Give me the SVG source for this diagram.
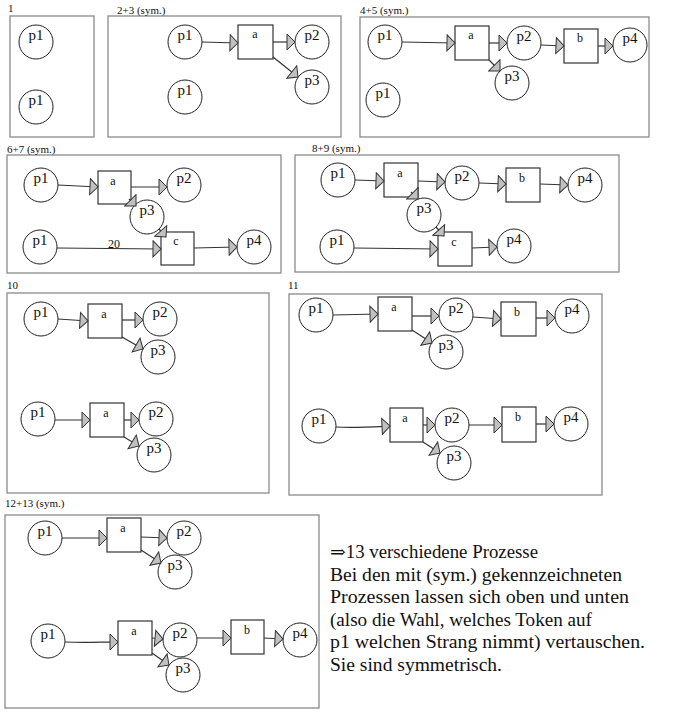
<svg xmlns="http://www.w3.org/2000/svg" width="686" height="719" viewBox="0 0 686 719">
<style>
.frame{fill:none;stroke:#8a8a8a;stroke-width:1.3}
.pl{fill:#fff;stroke:#222;stroke-width:1}
.tr{fill:#fff;stroke:#333;stroke-width:1.2}
.arc{fill:none;stroke:#333;stroke-width:1.2;marker-end:url(#ah)}
.plt{font-family:"Liberation Serif","Times New Roman",serif;font-size:15px;fill:#111;text-anchor:middle}
.trt{font-family:"Liberation Serif","Times New Roman",serif;font-size:12px;fill:#111;text-anchor:middle}
.lbl{font-family:"Liberation Serif","Times New Roman",serif;font-size:11px;fill:#111}
.note{font-family:"Liberation Serif","DejaVu Serif",serif;font-size:18px;fill:#111}
</style>
<defs>
<marker id="ah" viewBox="0 0 10 18" refX="9" refY="9" markerWidth="10" markerHeight="18" markerUnits="userSpaceOnUse" orient="auto">
<path d="M1,1 L9,9 L1,17 Z" fill="#c0c0c0" stroke="#333" stroke-width="1"/>
</marker>
</defs>
<rect width="686" height="719" fill="#fff"/>

<!-- frames and panel labels -->
<g id="frames">
<rect class="frame" x="10" y="16" width="84" height="121"/>
<rect class="frame" x="108" y="16" width="233" height="121"/>
<rect class="frame" x="360" y="17" width="289" height="120"/>
<rect class="frame" x="7" y="155" width="274" height="118"/>
<rect class="frame" x="295" y="155" width="324" height="117"/>
<rect class="frame" x="7" y="293" width="262" height="200"/>
<rect class="frame" x="289" y="294" width="313" height="201"/>
<rect class="frame" x="5" y="515" width="314" height="193"/>
<text class="lbl" x="8" y="12">1</text>
<text class="lbl" x="117" y="14">2+3 (sym.)</text>
<text class="lbl" x="360" y="14">4+5 (sym.)</text>
<text class="lbl" x="7" y="153">6+7 (sym.)</text>
<text class="lbl" x="312" y="152">8+9 (sym.)</text>
<text class="lbl" x="7" y="289">10</text>
<text class="lbl" x="288" y="289">11</text>
<text class="lbl" x="5" y="507">12+13 (sym.)</text>
</g>

<!-- Panel 1 -->
<g id="n1-p1a"><circle class="pl" cx="36" cy="42" r="17"/><text class="plt" x="36" y="40">p1</text></g>
<g id="n1-p1b"><circle class="pl" cx="36" cy="107" r="17"/><text class="plt" x="36" y="105">p1</text></g>

<!-- Panel 2+3 -->
<g id="n2-p1a"><circle class="pl" cx="185" cy="42" r="17"/><text class="plt" x="185" y="40">p1</text></g>
<g id="n2-a"><rect class="tr" x="238" y="25" width="35" height="34"/><text class="trt" x="255" y="38">a</text></g>
<g id="n2-p2"><circle class="pl" cx="312" cy="42" r="17"/><text class="plt" x="312" y="40">p2</text></g>
<g id="n2-p3"><circle class="pl" cx="312" cy="87" r="17"/><text class="plt" x="312" y="85">p3</text></g>
<g id="n2-p1b"><circle class="pl" cx="185" cy="97" r="17"/><text class="plt" x="185" y="95">p1</text></g>

<!-- Panel 4+5 -->
<g id="n4-p1a"><circle class="pl" cx="385" cy="42" r="17"/><text class="plt" x="385" y="40">p1</text></g>
<g id="n4-a"><rect class="tr" x="455" y="26" width="34" height="34"/><text class="trt" x="471" y="39">a</text></g>
<g id="n4-p2"><circle class="pl" cx="524" cy="43" r="17"/><text class="plt" x="524" y="41">p2</text></g>
<g id="n4-b"><rect class="tr" x="564" y="29" width="34" height="34"/><text class="trt" x="580" y="42">b</text></g>
<g id="n4-p4"><circle class="pl" cx="630" cy="45" r="17"/><text class="plt" x="630" y="43">p4</text></g>
<g id="n4-p3"><circle class="pl" cx="512" cy="83" r="17"/><text class="plt" x="512" y="81">p3</text></g>
<g id="n4-p1b"><circle class="pl" cx="383" cy="100" r="17"/><text class="plt" x="383" y="98">p1</text></g>

<!-- Panel 6+7 -->
<g id="n6-p1a"><circle class="pl" cx="41" cy="185" r="17"/><text class="plt" x="41" y="183">p1</text></g>
<g id="n6-a"><rect class="tr" x="98" y="171" width="33" height="33"/><text class="trt" x="113" y="185">a</text></g>
<g id="n6-p2"><circle class="pl" cx="184" cy="185" r="17"/><text class="plt" x="184" y="183">p2</text></g>
<g id="n6-p3"><circle class="pl" cx="147" cy="217" r="17"/><text class="plt" x="147" y="215">p3</text></g>
<g id="n6-p1b"><circle class="pl" cx="40" cy="247" r="17"/><text class="plt" x="40" y="245">p1</text></g>
<g id="n6-c"><rect class="tr" x="161" y="232" width="33" height="33"/><text class="trt" x="176" y="245">c</text></g>
<g id="n6-p4"><circle class="pl" cx="254" cy="247" r="17"/><text class="plt" x="254" y="245">p4</text></g>

<!-- Panel 8+9 -->
<g id="n8-p1a"><circle class="pl" cx="338" cy="180" r="17"/><text class="plt" x="338" y="178">p1</text></g>
<g id="n8-a"><rect class="tr" x="384" y="163" width="34" height="34"/><text class="trt" x="400" y="177">a</text></g>
<g id="n8-p2"><circle class="pl" cx="462" cy="183" r="17"/><text class="plt" x="462" y="181">p2</text></g>
<g id="n8-b"><rect class="tr" x="506" y="168" width="34" height="34"/><text class="trt" x="522" y="182">b</text></g>
<g id="n8-p4a"><circle class="pl" cx="585" cy="185" r="17"/><text class="plt" x="585" y="183">p4</text></g>
<g id="n8-p3"><circle class="pl" cx="424" cy="215" r="17"/><text class="plt" x="424" y="213">p3</text></g>
<g id="n8-p1b"><circle class="pl" cx="337" cy="247" r="17"/><text class="plt" x="337" y="245">p1</text></g>
<g id="n8-c"><rect class="tr" x="438" y="232" width="34" height="34"/><text class="trt" x="454" y="246">c</text></g>
<g id="n8-p4b"><circle class="pl" cx="514" cy="246" r="17"/><text class="plt" x="514" y="244">p4</text></g>

<!-- Panel 10 -->
<g id="n10-p1a"><circle class="pl" cx="41" cy="319" r="17"/><text class="plt" x="41" y="317">p1</text></g>
<g id="n10-a1"><rect class="tr" x="88" y="304" width="34" height="34"/><text class="trt" x="104" y="318">a</text></g>
<g id="n10-p2a"><circle class="pl" cx="160" cy="319" r="17"/><text class="plt" x="160" y="317">p2</text></g>
<g id="n10-p3a"><circle class="pl" cx="158" cy="357" r="17"/><text class="plt" x="158" y="355">p3</text></g>
<g id="n10-p1b"><circle class="pl" cx="38" cy="419" r="17"/><text class="plt" x="38" y="417">p1</text></g>
<g id="n10-a2"><rect class="tr" x="90" y="403" width="34" height="34"/><text class="trt" x="106" y="417">a</text></g>
<g id="n10-p2b"><circle class="pl" cx="156" cy="419" r="17"/><text class="plt" x="156" y="417">p2</text></g>
<g id="n10-p3b"><circle class="pl" cx="154" cy="455" r="17"/><text class="plt" x="154" y="453">p3</text></g>

<!-- Panel 11 -->
<g id="n11-p1a"><circle class="pl" cx="316" cy="315" r="17"/><text class="plt" x="316" y="313">p1</text></g>
<g id="n11-a1"><rect class="tr" x="378" y="297" width="34" height="34"/><text class="trt" x="394" y="311">a</text></g>
<g id="n11-p2a"><circle class="pl" cx="456" cy="315" r="17"/><text class="plt" x="456" y="313">p2</text></g>
<g id="n11-b1"><rect class="tr" x="501" y="302" width="35" height="34"/><text class="trt" x="517" y="316">b</text></g>
<g id="n11-p4a"><circle class="pl" cx="572" cy="316" r="17"/><text class="plt" x="572" y="314">p4</text></g>
<g id="n11-p3a"><circle class="pl" cx="446" cy="352" r="17"/><text class="plt" x="446" y="350">p3</text></g>
<g id="n11-p1b"><circle class="pl" cx="319" cy="426" r="17"/><text class="plt" x="319" y="424">p1</text></g>
<g id="n11-a2"><rect class="tr" x="390" y="408" width="33" height="34"/><text class="trt" x="405" y="422">a</text></g>
<g id="n11-p2b"><circle class="pl" cx="452" cy="425" r="17"/><text class="plt" x="452" y="423">p2</text></g>
<g id="n11-b2"><rect class="tr" x="502" y="407" width="34" height="35"/><text class="trt" x="518" y="421">b</text></g>
<g id="n11-p4b"><circle class="pl" cx="571" cy="424" r="17"/><text class="plt" x="571" y="422">p4</text></g>
<g id="n11-p3b"><circle class="pl" cx="454" cy="463" r="17"/><text class="plt" x="454" y="461">p3</text></g>

<!-- Panel 12+13 -->
<g id="n12-p1a"><circle class="pl" cx="45" cy="538" r="17"/><text class="plt" x="45" y="536">p1</text></g>
<g id="n12-a1"><rect class="tr" x="107" y="518" width="34" height="34"/><text class="trt" x="123" y="532">a</text></g>
<g id="n12-p2a"><circle class="pl" cx="184" cy="538" r="17"/><text class="plt" x="184" y="536">p2</text></g>
<g id="n12-p3a"><circle class="pl" cx="175" cy="572" r="17"/><text class="plt" x="175" y="570">p3</text></g>
<g id="n12-p1b"><circle class="pl" cx="48" cy="641" r="17"/><text class="plt" x="48" y="639">p1</text></g>
<g id="n12-a2"><rect class="tr" x="118" y="621" width="34" height="34"/><text class="trt" x="134" y="635">a</text></g>
<g id="n12-p2b"><circle class="pl" cx="180" cy="640" r="17"/><text class="plt" x="180" y="638">p2</text></g>
<g id="n12-b"><rect class="tr" x="231" y="620" width="33" height="34"/><text class="trt" x="247" y="634">b</text></g>
<g id="n12-p4"><circle class="pl" cx="300" cy="640" r="17"/><text class="plt" x="300" y="638">p4</text></g>
<g id="n12-p3b"><circle class="pl" cx="183" cy="675" r="17"/><text class="plt" x="183" y="673">p3</text></g>

<!-- connectors -->
<g id="connectors">
<path class="arc" d="M202,42 L238,43"/>
<path class="arc" d="M273,42 L295,42"/>
<path class="arc" d="M273,57 L298,77"/>

<path class="arc" d="M402,42 L455,43"/>
<path class="arc" d="M489,43 L507,43"/>
<path class="arc" d="M541,45 L564,46"/>
<path class="arc" d="M598,46 L613,46"/>
<path class="arc" d="M489,60 L500,71"/>

<path class="arc" d="M58,185 L98,187"/>
<path class="arc" d="M131,187 L167,187"/>
<path class="arc" d="M129,199 L136,206"/>
<path class="arc" d="M159,229 L166,237"/>
<path class="arc" d="M57,248 L161,249"/>
<path class="arc" d="M194,248 L237,247"/>

<path class="arc" d="M355,180 L384,181"/>
<path class="arc" d="M418,181 L445,182"/>
<path class="arc" d="M479,183 L506,184"/>
<path class="arc" d="M540,184 L568,185"/>
<path class="arc" d="M411,192 L418,199"/>
<path class="arc" d="M436,227 L444,236"/>
<path class="arc" d="M354,248 L438,249"/>
<path class="arc" d="M472,248 L497,247"/>

<path class="arc" d="M58,319 L88,321"/>
<path class="arc" d="M122,320 L143,320"/>
<path class="arc" d="M122,337 L143,349"/>
<path class="arc" d="M55,420 L90,420"/>
<path class="arc" d="M124,420 L139,420"/>
<path class="arc" d="M124,437 L139,446"/>

<path class="arc" d="M333,315 L378,314"/>
<path class="arc" d="M412,316 L439,316"/>
<path class="arc" d="M473,317 L501,319"/>
<path class="arc" d="M536,318 L555,318"/>
<path class="arc" d="M412,330 L432,343"/>
<path class="arc" d="M336,427 C355,428 370,427 390,426"/>
<path class="arc" d="M423,425 L435,425"/>
<path class="arc" d="M469,425 L502,425"/>
<path class="arc" d="M536,424 L554,424"/>
<path class="arc" d="M423,442 L440,453"/>

<path class="arc" d="M62,538 L107,538"/>
<path class="arc" d="M141,537 L167,538"/>
<path class="arc" d="M141,550 L161,563"/>
<path class="arc" d="M65,642 C85,643 100,642 118,642"/>
<path class="arc" d="M152,638 L163,639"/>
<path class="arc" d="M197,638 L231,638"/>
<path class="arc" d="M264,638 L283,639"/>
<path class="arc" d="M152,653 L169,665"/>
<text class="lbl" x="108" y="248" style="font-size:12px">20</text>
</g>

<!-- note -->
<g id="note">
<text class="note" x="330" y="558" textLength="208" lengthAdjust="spacingAndGlyphs">⇒13 verschiedene Prozesse</text>
<text class="note" x="330" y="580.5" textLength="292" lengthAdjust="spacingAndGlyphs">Bei den mit (sym.) gekennzeichneten</text>
<text class="note" x="330" y="603" textLength="299" lengthAdjust="spacingAndGlyphs">Prozessen lassen sich oben und unten</text>
<text class="note" x="330" y="625.5" textLength="262" lengthAdjust="spacingAndGlyphs">(also die Wahl, welches Token auf</text>
<text class="note" x="330" y="648" textLength="315" lengthAdjust="spacingAndGlyphs">p1 welchen Strang nimmt) vertauschen.</text>
<text class="note" x="330" y="670.5" textLength="172" lengthAdjust="spacingAndGlyphs">Sie sind symmetrisch.</text>
</g>
</svg>
